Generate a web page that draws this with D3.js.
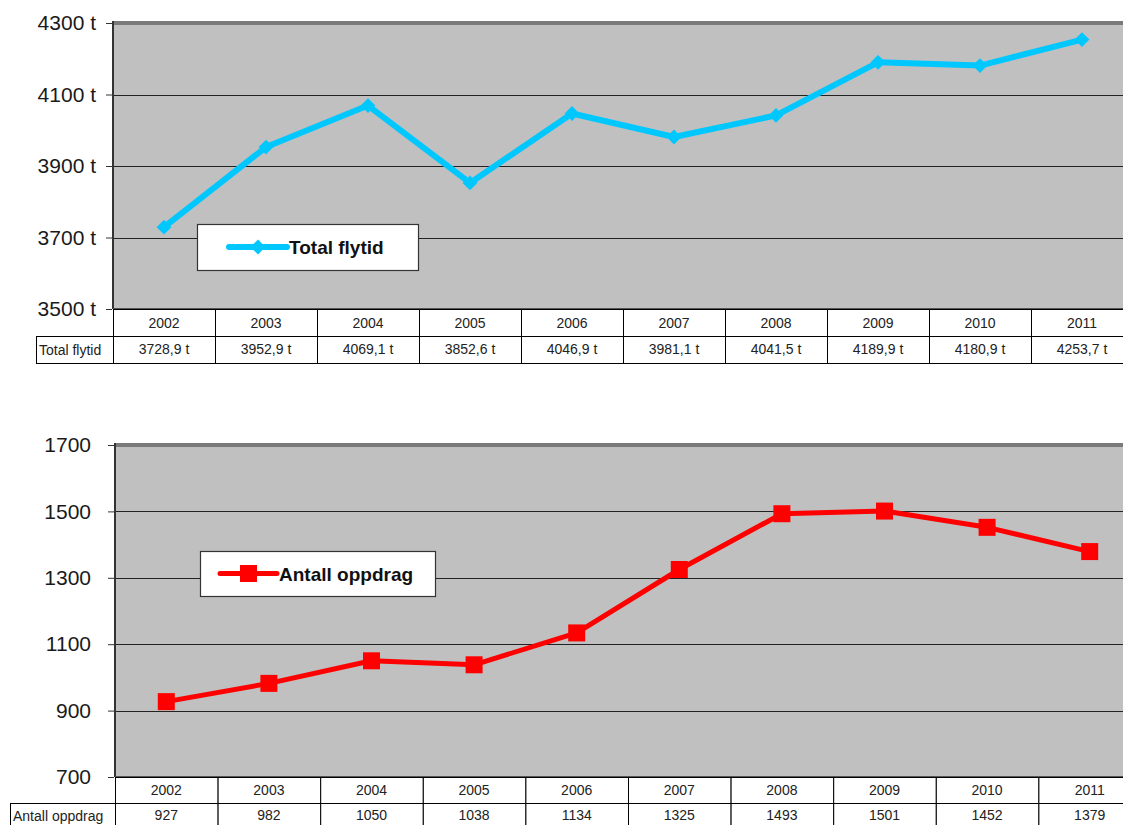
<!DOCTYPE html>
<html>
<head>
<meta charset="utf-8">
<script src="https://cdn.jsdelivr.net/npm/d3@7"></script>
<style>
  body { margin: 0; background: #fff; }
  svg { display: block; font-family: "Liberation Sans", Arial, sans-serif; }
</style>
</head>
<body>
<svg width="1123" height="825"></svg>
<script>
// data
var years = ["2002", "2003", "2004", "2005", "2006", "2007", "2008", "2009", "2010", "2011"];
var flytid = [3728.9, 3952.9, 4069.1, 3852.6, 4046.9, 3981.1, 4041.5, 4189.9, 4180.9, 4253.7];
var oppdrag = [927, 982, 1050, 1038, 1134, 1325, 1493, 1501, 1452, 1379];
var flytidTicks = [3500, 3700, 3900, 4100, 4300];
var oppdragTicks = [700, 900, 1100, 1300, 1500, 1700];

var svg = d3.select("svg");

function commaFmt(v) {
    return d3.format(".1f")(v).replace(".", ",") + " t";
}

function drawPanel(o) {
    var x = d3.scaleBand().domain(o.cats).range([o.left, o.right]);
    var y = d3.scaleLinear().domain(o.domain).range([o.bottom, o.top]);
    var g = svg.append("g");

    // plot background
    g.append("rect")
        .attr("x", o.left).attr("y", o.top)
        .attr("width", o.right - o.left).attr("height", o.bottom - o.top)
        .attr("fill", "#c0c0c0");

    // gridlines
    g.selectAll(".grid").data(o.ticks.slice(1, -1)).enter().append("line")
        .attr("x1", o.left).attr("x2", o.right)
        .attr("y1", function (d) { return Math.round(y(d)) + 0.5; })
        .attr("y2", function (d) { return Math.round(y(d)) + 0.5; })
        .attr("stroke", "#222").attr("stroke-width", 1);

    // frame: thick gray top, dark left
    g.append("line").attr("x1", o.left).attr("x2", o.right)
        .attr("y1", o.top).attr("y2", o.top)
        .attr("stroke", "#7a7a7a").attr("stroke-width", 4);
    g.append("line").attr("x1", o.left).attr("x2", o.left)
        .attr("y1", o.top - 2).attr("y2", o.bottom)
        .attr("stroke", "#333").attr("stroke-width", 2);
    g.append("line").attr("x1", o.left).attr("x2", o.right)
        .attr("y1", o.bottom).attr("y2", o.bottom)
        .attr("stroke", "#555").attr("stroke-width", 2);

    // y axis
    var yAxis = d3.axisLeft(y).tickValues(o.ticks).tickSize(6).tickPadding(o.tickPad)
        .tickFormat(o.tickFormat);
    var ax = g.append("g").attr("transform", "translate(" + (o.left - 1) + ",0)").call(yAxis);
    ax.select(".domain").remove();
    ax.selectAll(".tick line").attr("stroke", "#333");
    ax.selectAll("text").attr("font-size", 21).attr("fill", "#1a1a1a")
        .attr("font-family", "Liberation Sans, Arial, sans-serif");

    // series line
    var line = d3.line()
        .x(function (d, i) { return x(o.cats[i]) + x.bandwidth() / 2; })
        .y(function (d) { return y(d); });
    g.append("path").datum(o.values)
        .attr("d", line).attr("fill", "none")
        .attr("stroke", o.color).attr("stroke-width", o.lineW).attr("stroke-linejoin", "round");

    var sym = d3.symbol().type(o.symbol).size(o.symSize);
    g.selectAll(".pt").data(o.values).enter().append("path")
        .attr("d", sym)
        .attr("transform", function (d, i) {
            return "translate(" + (x(o.cats[i]) + x.bandwidth() / 2) + "," + y(d) + ")" + (o.rotate ? " rotate(45)" : "");
        })
        .attr("fill", o.color);

    // data table
    var rowH = o.rowH;
    var t = g.append("g").attr("font-size", 14).attr("fill", "#222");
    o.cats.forEach(function (c, i) {
        var cx = x(c);
        t.append("rect").attr("x", cx + 0.5).attr("y", o.bottom + 0.5)
            .attr("width", x.bandwidth()).attr("height", rowH)
            .attr("fill", "#fff").attr("stroke", "#000");
        t.append("rect").attr("x", cx + 0.5).attr("y", o.bottom + rowH + 0.5)
            .attr("width", x.bandwidth()).attr("height", rowH)
            .attr("fill", "#fff").attr("stroke", "#000");
        t.append("text").attr("x", cx + x.bandwidth() / 2).attr("y", o.bottom + rowH / 2 + 5)
            .attr("text-anchor", "middle").text(c);
        t.append("text").attr("x", cx + x.bandwidth() / 2).attr("y", o.bottom + rowH * 1.5 + 4)
            .attr("text-anchor", "middle").text(o.cellFormat(o.values[i]));
    });
    t.append("rect").attr("x", o.labelLeft + 0.5).attr("y", o.bottom + rowH + 0.5)
        .attr("width", o.left - o.labelLeft).attr("height", rowH)
        .attr("fill", "#fff").attr("stroke", "#000");
    t.append("text").attr("x", o.labelLeft + 3).attr("y", o.bottom + rowH * 1.5 + 5)
        .text(o.name);

    // legend
    var lg = g.append("g").attr("transform", "translate(" + o.legend[0] + "," + o.legend[1] + ")");
    lg.append("rect").attr("x", 0.5).attr("y", 0.5)
        .attr("width", o.legend[2]).attr("height", o.legend[3])
        .attr("fill", "#fff").attr("stroke", "#333").attr("stroke-width", 1.2);
    var my = o.legend[3] / 2;
    lg.append("line").attr("x1", o.legLine[0]).attr("x2", o.legLine[1])
        .attr("y1", my).attr("y2", my)
        .attr("stroke", o.color).attr("stroke-width", o.lineW).attr("stroke-linecap", "round");
    lg.append("path").attr("d", sym)
        .attr("transform", "translate(" + (o.legLine[0] + o.legLine[1]) / 2 + "," + my + ")" + (o.rotate ? " rotate(45)" : ""))
        .attr("fill", o.color);
    lg.append("text").attr("x", o.legLine[1] + 2).attr("y", my + 7)
        .attr("font-size", 19).attr("font-weight", "bold").attr("fill", "#111")
        .text(o.name);
}

drawPanel({
    name: "Total flytid", cats: years, values: flytid,
    domain: [3500, 4300], ticks: flytidTicks,
    left: 113, right: 1133, top: 23, bottom: 309,
    tickPad: 10, tickFormat: function (d) { return d + " t"; },
    color: "#00c8ff", lineW: 6, symbol: d3.symbolSquare, symSize: 110, rotate: true,
    rowH: 27, labelLeft: 36, cellFormat: commaFmt,
    legend: [197, 224, 221, 46], legLine: [32, 90]
});

drawPanel({
    name: "Antall oppdrag", cats: years, values: oppdrag,
    domain: [700, 1700], ticks: oppdragTicks,
    left: 115, right: 1141, top: 445, bottom: 777,
    tickPad: 17, tickFormat: function (d) { return d; },
    color: "#ff0000", lineW: 5, symbol: d3.symbolSquare, symSize: 289, rotate: false,
    rowH: 26, labelLeft: 10, cellFormat: function (d) { return d; },
    legend: [200, 551, 235, 45], legLine: [20, 77]
});
</script>
</body>
</html>
